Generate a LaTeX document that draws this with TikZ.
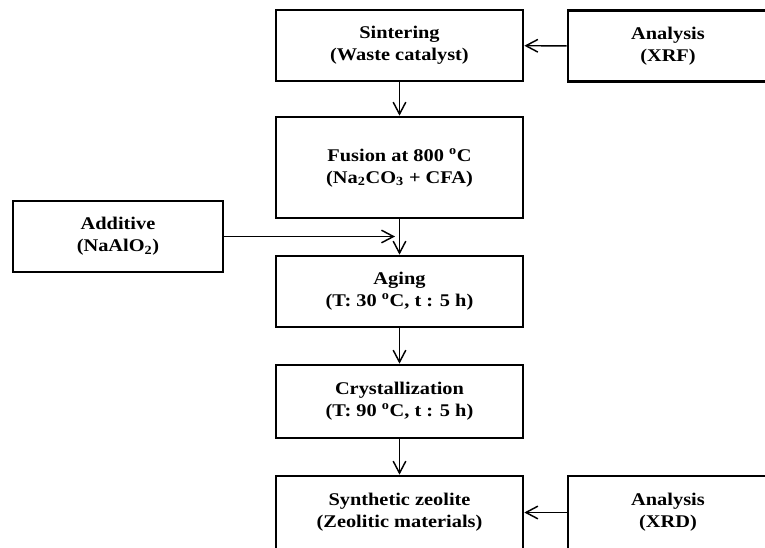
\documentclass[tikz,border=0pt]{standalone}
\usepackage{fontspec}
\setmainfont{Liberation Serif}[FakeStretch=1.14]
\usetikzlibrary{arrows.meta}

\begin{document}
\begin{tikzpicture}[
			x=0.75pt, y=-0.75pt,
			stage/.style={draw, line width=2pt, align=center, inner sep=0pt,
					minimum width=185.25pt, minimum height=53.25pt,
					font=\fontsize{13.4}{16.5}\selectfont\bfseries},
			check/.style={stage, minimum width=150pt},
			flow/.style={line width=1.1pt, -{Straight Barb[length=9pt,width=9.5pt]}}
		]
		\useasboundingbox (0,0) rectangle (765,547);
		\clip (0,0) rectangle (765,547);
		\node[stage] (sinter) at (399.5,45.5) {Sintering\\(Waste catalyst)};
		\node[check] (xrf) at (668,46) {Analysis\\(XRF)};
		\node[stage, minimum height=75.75pt] (fusion) at (399.5,167.5) {Fusion at 800 \textsuperscript{o}C\\(Na\textsubscript{2}CO\textsubscript{3} + CFA)};
		\node[stage, minimum width=157.5pt] (additive) at (118,236.5) {Additive\\(NaAlO\textsubscript{2})};
		\node[stage] (aging) at (399.5,291.5) {Aging\\(T: 30 \textsuperscript{o}C, t : 5 h)};
		\node[stage, minimum height=54.75pt] (cryst) at (399.5,401.5) {Crystallization\\(T: 90 \textsuperscript{o}C, t : 5 h)};
		\node[stage, minimum height=54.75pt] (zeolite) at (399.5,512.5) {Synthetic zeolite\\(Zeolitic materials)};
		\node[check, minimum height=54.75pt] (xrd) at (668,512.5) {Analysis\\(XRD)};
		\coordinate (join) at (395,236.5);
		\draw[flow] (xrf) -- (sinter);
		\draw[flow] (sinter) -- (fusion);
		\draw[flow] (fusion) -- (aging);
		\draw[flow] (additive) -- (join);
		\draw[flow] (aging) -- (cryst);
		\draw[flow] (cryst) -- (zeolite);
		\draw[flow] (xrd) -- (zeolite);
	\end{tikzpicture}
\end{document}
